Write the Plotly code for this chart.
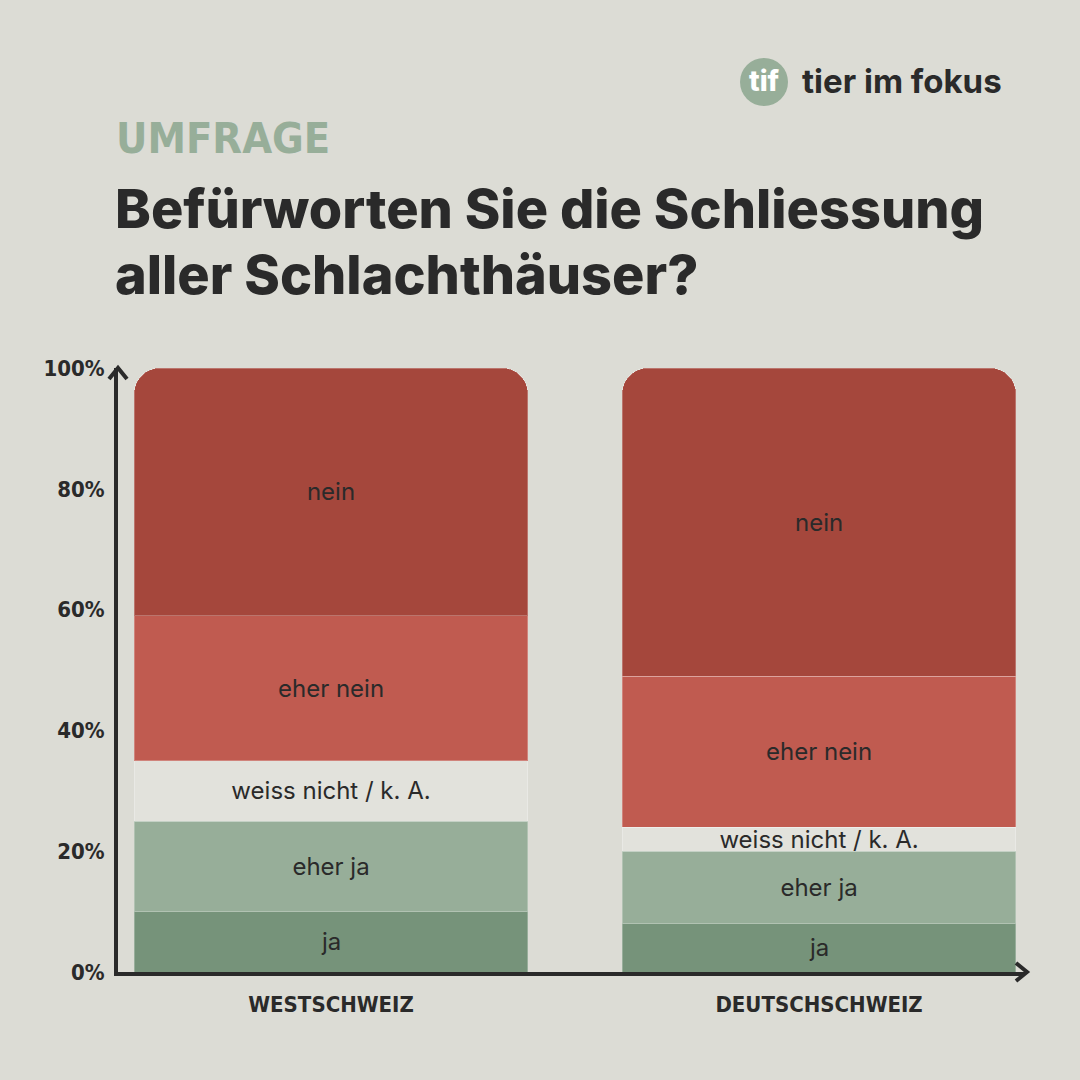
import plotly.graph_objects as go

# survey data (percent)
regions = ["WESTSCHWEIZ", "DEUTSCHSCHWEIZ"]
answers = ["ja", "eher ja", "weiss nicht / k. A.", "eher nein", "nein"]
ja = [10, 8]
eher_ja = [15, 12]
weiss_nicht = [10, 4]
eher_nein = [24, 25]
nein = [41, 51]
y_ticks = [0, 20, 40, 60, 80, 100]
y_labels = [f"{v}%" for v in y_ticks]

colors = ["#76937a", "#97ae99", "#e2e2dc", "#c05b50", "#a5473c"]
bg = "#dcdcd5"
dark = "#2a2a2a"

# plot area in pixels
L, R, T, B = 118, 1025, 368, 972


def px2x(px):
    return (px - L) / (R - L)


def py2y(py):
    return (B - py) / (B - T)


fig = go.Figure()
for name, vals, col in zip(answers, [ja, eher_ja, weiss_nicht, eher_nein, nein], colors):
    fig.add_trace(go.Bar(
        x=[0, 1],
        y=vals,
        name=name,
        width=0.807,
        marker=dict(color=col, line=dict(color="rgba(255,255,255,0.25)", width=1)),
        text=[name, name],
        textposition="inside",
        insidetextanchor="middle",
        textfont=dict(family="Inter", size=24, color=dark),
        hoverinfo="skip",
    ))

# arrow heads on the axes
fig.add_shape(type="path", xref="paper", yref="paper",
              xsizemode="pixel", ysizemode="pixel", xanchor=0, yanchor=1,
              path="M -9,-11 L 0,0 L 9,-11",
              line=dict(color=dark, width=4))
fig.add_shape(type="path", xref="paper", yref="paper",
              xsizemode="pixel", ysizemode="pixel", xanchor=1, yanchor=0,
              path="M -9,9 L 2,0 L -9,-9",
              line=dict(color=dark, width=4))

# logo
fig.add_shape(type="circle", xref="paper", yref="paper",
              xsizemode="pixel", ysizemode="pixel",
              xanchor=px2x(764), yanchor=py2y(82),
              x0=-24, x1=24, y0=-24, y1=24,
              fillcolor="#97ae99", line=dict(width=0))
fig.add_annotation(xref="paper", yref="paper", x=px2x(764), y=py2y(81),
                   text="tif", showarrow=False, xanchor="center", yanchor="middle",
                   font=dict(family="Inter", size=28, color="white", weight=800))
fig.add_annotation(xref="paper", yref="paper", x=px2x(800), y=py2y(81),
                   text="tier im fokus", showarrow=False, xanchor="left", yanchor="middle",
                   font=dict(family="Inter", size=33, color=dark, weight=700))

# headings
fig.add_annotation(xref="paper", yref="paper", x=px2x(114), y=py2y(138),
                   text="UMFRAGE", showarrow=False, xanchor="left", yanchor="middle",
                   font=dict(family="DejaVu Sans Condensed", size=43, color="#97ae99", weight=700))
fig.add_annotation(xref="paper", yref="paper", x=px2x(113), y=py2y(209),
                   text="Befürworten Sie die Schliessung",
                   showarrow=False, xanchor="left", yanchor="middle",
                   font=dict(family="Inter", size=54, color=dark, weight=800))
fig.add_annotation(xref="paper", yref="paper", x=px2x(113), y=py2y(275),
                   text="aller Schlachthäuser?",
                   showarrow=False, xanchor="left", yanchor="middle",
                   font=dict(family="Inter", size=54, color=dark, weight=800))

fig.update_layout(
    width=1080, height=1080,
    margin=dict(l=L, r=1080 - R, t=T, b=1080 - B, pad=0),
    paper_bgcolor=bg, plot_bgcolor=bg,
    barmode="stack",
    barcornerradius=26,
    showlegend=False,
    uniformtext=dict(minsize=24, mode="show"),
    xaxis=dict(
        range=[-0.4365, 1.422],
        tickvals=[0, 1], ticktext=regions,
        showgrid=False, zeroline=False,
        showline=True, linewidth=4, linecolor=dark,
        ticks="", ticklabelstandoff=10,
        tickfont=dict(family="DejaVu Sans Condensed", size=22, color=dark, weight=700),
    ),
    yaxis=dict(
        range=[0, 100],
        tickvals=y_ticks, ticktext=y_labels,
        showgrid=False, zeroline=False,
        showline=True, linewidth=4, linecolor=dark,
        ticks="", ticklabelstandoff=5,
        tickfont=dict(family="DejaVu Sans Condensed", size=22, color=dark, weight=700),
    ),
)

fig.write_html("out.html", config={"displayModeBar": False},
               post_script="document.body.style.margin='0';")
